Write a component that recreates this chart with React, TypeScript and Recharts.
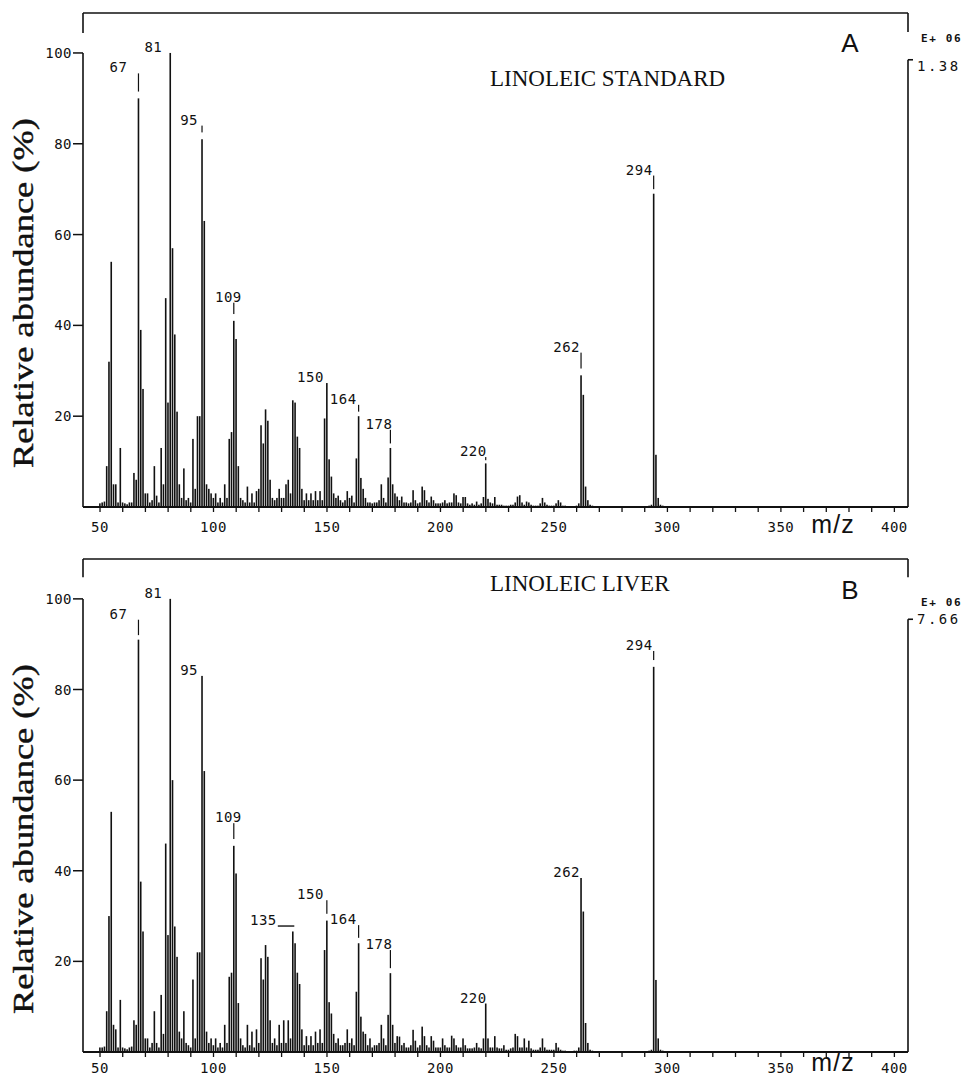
import React from 'react';
import { ComposedChart, Bar, XAxis, YAxis, ReferenceLine } from 'recharts';

// ---------- data (m/z 50 .. 300, one value per integer mass) ----------
const MZ_FIRST = 50;

const ABUND_A = [
  0.8, 1, 1.2, 9, 32, 54, 5, 5, 1, 13,
  1, 0.8, 0.6, 1, 1, 7.5, 6, 90, 39, 26,
  3, 3, 1, 1.5, 9, 2.5, 1, 13, 5, 46,
  23, 100, 57, 38, 21, 5, 2, 8.5, 1.5, 2,
  1, 15, 4, 20, 20, 81, 63, 5, 4, 3,
  2, 3, 1, 2, 1, 5, 2, 15, 16.5, 41,
  37, 9, 2, 1.5, 1, 4.5, 1, 3, 1, 3.5,
  4, 18, 14, 21.5, 19, 6, 2, 1.5, 2, 4,
  2, 2, 5, 6, 3, 23.5, 23, 15.5, 13, 4,
  1.5, 3, 1.5, 3, 1.5, 3.5, 1.5, 3.5, 1.5, 19.5,
  27.3, 10.5, 6.7, 3, 2, 2.5, 1.5, 1, 1.5, 3.5,
  2, 2.5, 1, 10.7, 20, 6.4, 4, 2, 1, 1,
  0.8, 1, 1, 1.5, 5, 2, 1, 6.5, 13, 5,
  3, 2.3, 1.5, 2.3, 1, 1, 0.8, 1, 3.7, 1.5,
  0.8, 1, 4.5, 3.7, 1.5, 1, 2.3, 1.5, 0.8, 0.8,
  0.8, 1, 1.5, 0.8, 1, 1, 3, 2.6, 1, 0.8,
  2.2, 2.2, 0.8, 0.5, 0.8, 0.5, 1.2, 0.5, 0.8, 2.2,
  9.6, 1.8, 1, 0.8, 2.2, 0.5, 0.5, 0.5, 0.3, 0.3,
  0.3, 0.5, 0.5, 1, 2.3, 2.6, 1, 0.5, 1.2, 1,
  0.5, 0.3, 0.3, 0.3, 0.8, 2, 1, 0.5, 0.3, 0.3,
  0.3, 0.8, 1.5, 1, 0.3, 0.3, 0.2, 0.2, 0.2, 0.2,
  0.3, 0.8, 29, 24.7, 4.5, 1.5, 0.5, 0.3, 0.2, 0.2,
  0.2, 0.2, 0.2, 0.2, 0.2, 0.2, 0.2, 0.2, 0.2, 0.2,
  0.2, 0.2, 0.2, 0.2, 0.2, 0.2, 0.2, 0.2, 0.2, 0.2,
  0.2, 0.2, 0.3, 0.5, 69, 11.5, 2, 0.5, 0.3, 0.2,
  0.2,
];

const ABUND_B = [
  1, 1, 1.2, 9, 30, 53, 6, 5, 1, 11.5,
  1, 0.8, 0.6, 1, 1.2, 7, 6, 91, 37.6, 26.6,
  3, 3, 1, 2, 9, 2, 1, 12.6, 4, 46,
  25.8, 100, 60, 27.7, 21, 4.5, 3, 9, 2, 1.5,
  1, 16, 3, 22, 22, 83, 62, 4.5, 2, 3,
  1.5, 3, 1, 2, 1, 6, 2, 16.6, 17.5, 45.5,
  39.4, 10.8, 3, 1.5, 1, 6, 1.5, 4.5, 1, 5,
  2, 20.7, 16, 23.6, 21, 7, 2, 3, 1.5, 6,
  2, 7, 2, 7, 3, 26.6, 24, 17.5, 15, 5,
  1.5, 3.5, 1.5, 3.5, 1.5, 4.5, 2, 5, 2, 22.5,
  29, 11, 8.5, 4, 2, 3, 1.5, 1.5, 2, 5,
  2, 3, 1.5, 13.3, 24, 7.8, 4.5, 4, 1.5, 3,
  1, 1.5, 1.5, 2, 6, 3, 1.5, 8.2, 17.4, 6,
  2, 3.5, 3.4, 1.5, 2, 1, 1, 1.5, 4.9, 2.5,
  1, 1.5, 5.6, 3.5, 1.5, 1, 3.5, 2.5, 1, 1,
  1, 3, 1.5, 1, 1, 3.6, 3, 1.5, 1, 1,
  3, 1.5, 0.8, 0.8, 0.8, 1, 2, 1, 0.8, 3,
  10.7, 3, 1, 1, 3.5, 1, 0.8, 0.8, 1.5, 0.5,
  0.5, 0.8, 1, 4, 3.5, 1, 1, 3, 1, 2.5,
  0.8, 0.5, 0.5, 0.5, 1, 3, 1, 0.5, 0.5, 0.5,
  0.5, 2, 1, 0.5, 0.3, 0.3, 0.2, 0.2, 0.2, 0.3,
  0.3, 1, 38.4, 31, 6.4, 2, 0.5, 0.3, 0.2, 0.2,
  0.2, 0.2, 0.2, 0.2, 0.2, 0.2, 0.2, 0.2, 0.2, 0.2,
  0.2, 0.2, 0.2, 0.2, 0.2, 0.2, 0.2, 0.2, 0.2, 0.2,
  0.2, 0.2, 0.3, 0.5, 85, 15.9, 3, 0.5, 0.3, 0.2,
  0.2,
];

// labelled peaks
const LABELS_A = [67, 81, 95, 109, 150, 164, 178, 220, 262, 294];
const LABELS_B = [67, 81, 95, 109, 135, 150, 164, 178, 220, 262, 294];

// leader ticks drawn above labelled peaks (low, high in % abundance)
const LEADER_MZ_A = [67, 95, 109, 164, 178, 220, 262, 294];
const LEADER_LOW_A = [91.5, 82.5, 42.5, 21, 14, 10.3, 30.5, 70];
const LEADER_HIGH_A = [95.5, 84, 45, 22.5, 17, 11, 34, 73];

const LEADER_MZ_B = [67, 109, 150, 164, 178, 294];
const LEADER_LOW_B = [92, 47, 30.5, 25.2, 18.5, 86.5];
const LEADER_HIGH_B = [95.4, 50.5, 33.5, 28, 22.5, 88.5];

// label with a horizontal leader (m/z, level in %)
const HLABEL_MZ_B = [135];
const HLABEL_LEVEL_B = [27.8];

const X_TICKS = [50, 60, 70, 80, 90, 100, 110, 120, 130, 140, 150, 160, 170, 180, 190, 200,
  210, 220, 230, 240, 250, 260, 270, 280, 290, 300, 310, 320, 330, 340, 350, 360, 370, 380, 390, 400];
const X_LABELS = [50, 100, 150, 200, 250, 300, 350, 400];
const Y_TICKS = [20, 40, 60, 80, 100];

// ---------- styles ----------
const INK = '#111';
const MONO = '"DejaVu Sans Mono", "Liberation Mono", monospace';
const SERIF = '"Liberation Serif", "DejaVu Serif", serif';
const SANS = '"Liberation Sans", Arial, sans-serif';
const X_DOMAIN: [number, number] = [42.5, 406];
const Y_TOP = 108.8;
// horizontal placement of label text end relative to the peak (px)
const LABEL_DX: Record<string, number> = {
  '67': -11, '81': -8, '95': -4, '109': 8, '150': -3, '164': -2, '178': 2, '220': 1, '262': -1, '294': -1, '135': 0,
};

type Row = { mz: number; v: number; label: string | null; leader: [number, number] | null; hline: number | null };

function buildData(abund: number[], labels: number[], lMz: number[], lLow: number[], lHigh: number[], hMz: number[], hLev: number[]): Row[] {
  return abund.map((v, i) => {
    const mz = MZ_FIRST + i;
    const li = lMz.indexOf(mz);
    const hi = hMz.indexOf(mz);
    return {
      mz,
      v,
      label: labels.indexOf(mz) >= 0 ? String(mz) : null,
      leader: li >= 0 ? [lLow[li], lHigh[li]] : null,
      hline: hi >= 0 ? hLev[hi] : null,
    };
  });
}

const DATA_A = buildData(ABUND_A, LABELS_A, LEADER_MZ_A, LEADER_LOW_A, LEADER_HIGH_A, [], []);
const DATA_B = buildData(ABUND_B, LABELS_B, LEADER_MZ_B, LEADER_LOW_B, LEADER_HIGH_B, HLABEL_MZ_B, HLABEL_LEVEL_B);

const labelTextStyle = { fontFamily: MONO, fontSize: 14, letterSpacing: 0.5, fill: INK } as const;

function PeakShape(props: any) {
  const { x, y, width, height, payload } = props;
  if (x == null || y == null || !payload) return <g />;
  const cx = x + width / 2;
  const base = y + height;
  const ppu = payload.v > 0 ? height / payload.v : 0;
  const toY = (val: number) => base - val * ppu;
  const parts: any[] = [
    <rect key="p" x={cx - 0.8} y={y} width={1.6} height={Math.max(height, 0.4)} fill={INK} />,
  ];
  let top = y;
  if (payload.leader) {
    const y1 = toY(payload.leader[1]);
    const y0 = toY(payload.leader[0]);
    parts.push(<rect key="l" x={cx - 0.6} y={y1} width={1.2} height={y0 - y1} fill={INK} />);
    top = y1;
  }
  if (payload.label) {
    if (payload.hline != null) {
      const yl = toY(payload.hline);
      parts.push(<line key="h" x1={cx - 15} x2={cx + 1.5} y1={yl} y2={yl} stroke={INK} strokeWidth={1.4} />);
      parts.push(
        <text key="t" x={cx - 16} y={yl - 1} textAnchor="end" style={labelTextStyle}>{payload.label}</text>
      );
    } else {
      const dx = LABEL_DX[payload.label] ?? -2;
      parts.push(
        <text key="t" x={cx + dx} y={top - 1} textAnchor="end" style={labelTextStyle}>{payload.label}</text>
      );
    }
  }
  return <g>{parts}</g>;
}

function makeXTick(dy: number) {
  return (props: any) => {
    const { x, y, payload } = props;
    if (X_LABELS.indexOf(payload.value) < 0) return <g />;
    return (
      <text x={x} y={y} dy={dy} textAnchor="middle" style={{ fontFamily: MONO, fontSize: 14, letterSpacing: 0.5, fill: INK }}>
        {payload.value}
      </text>
    );
  };
}

function YTick(props: any) {
  const { x, y, payload } = props;
  return (
    <text x={x} y={y} dy={5} textAnchor="end" style={{ fontFamily: MONO, fontSize: 14, letterSpacing: 0.5, fill: INK }}>
      {payload.value}
    </text>
  );
}

type PanelProps = {
  data: Row[];
  height: number;
  marginTop: number;
  xAxisHeight: number;
  tickDy: number;
  leftTopLow: number;
  rightTopLow: number;
  rightAxisTop: number;
};

function Panel({ data, height, marginTop, xAxisHeight, tickDy, leftTopLow, rightTopLow, rightAxisTop }: PanelProps) {
  const lineProps = { stroke: INK, strokeWidth: 1.6, ifOverflow: 'visible' as const };
  return (
    <ComposedChart
      width={966}
      height={height}
      data={data}
      margin={{ top: marginTop, right: 58, bottom: 0, left: 43 }}
    >
      <XAxis
        type="number"
        dataKey="mz"
        domain={X_DOMAIN}
        allowDataOverflow
        ticks={X_TICKS}
        interval={0}
        tickSize={5}
        tickMargin={0}
        height={xAxisHeight}
        axisLine={{ stroke: INK, strokeWidth: 2 }}
        tickLine={{ stroke: INK, strokeWidth: 1.3 }}
        tick={makeXTick(tickDy)}
      />
      <YAxis
        type="number"
        domain={[0, Y_TOP]}
        allowDataOverflow
        ticks={Y_TICKS}
        interval={0}
        width={40}
        tickSize={10}
        tickMargin={1}
        axisLine={false}
        tickLine={{ stroke: INK, strokeWidth: 1.5 }}
        tick={YTick}
      />
      <ReferenceLine segment={[{ x: X_DOMAIN[0], y: 0 }, { x: X_DOMAIN[0], y: 100 }]} {...lineProps} />
      <ReferenceLine segment={[{ x: X_DOMAIN[0], y: Y_TOP }, { x: X_DOMAIN[0], y: leftTopLow }]} {...lineProps} />
      <ReferenceLine segment={[{ x: X_DOMAIN[0], y: Y_TOP }, { x: X_DOMAIN[1], y: Y_TOP }]} {...lineProps} />
      <ReferenceLine segment={[{ x: X_DOMAIN[1], y: Y_TOP }, { x: X_DOMAIN[1], y: rightTopLow }]} {...lineProps} />
      <ReferenceLine segment={[{ x: X_DOMAIN[1], y: 0 }, { x: X_DOMAIN[1], y: rightAxisTop }]} {...lineProps} />
      <ReferenceLine segment={[{ x: X_DOMAIN[1], y: rightAxisTop }, { x: X_DOMAIN[1] + 2.2, y: rightAxisTop }]} {...lineProps} />
      <Bar dataKey="v" barSize={2} isAnimationActive={false} shape={PeakShape} />
    </ComposedChart>
  );
}

function Texts() {
  const yLab = { fontFamily: SERIF, fontSize: 30, fill: INK, stroke: INK, strokeWidth: 0.4 } as const;
  const title = { fontFamily: SERIF, fontSize: 23, fill: INK } as const;
  const letter = { fontFamily: SANS, fontSize: 26, fill: INK } as const;
  const exp = { fontFamily: MONO, fontSize: 11, fontWeight: 700, letterSpacing: 1.6, fill: INK } as const;
  const scale = { fontFamily: MONO, fontSize: 14, letterSpacing: 2.5, fill: INK } as const;
  const mz = { fontFamily: SANS, fontSize: 25, letterSpacing: 1, fill: INK } as const;
  return (
    <svg width={966} height={1078} style={{ position: 'absolute', left: 0, top: 0, pointerEvents: 'none' }}>
      {/* panel A */}
      <text transform="translate(33,293) rotate(-90)" textAnchor="middle" textLength={350} lengthAdjust="spacingAndGlyphs" style={yLab}>
        Relative abundance (%)
      </text>
      <text x={490} y={86} style={title}>LINOLEIC STANDARD</text>
      <text x={850} y={52} textAnchor="middle" style={letter}>A</text>
      <text x={921} y={42} style={exp}>E+ 06</text>
      <text x={917} y={71} style={scale}>1.38</text>
      <text x={833} y={533} textAnchor="middle" style={mz}>m/z</text>
      {/* panel B */}
      <text transform="translate(33,839) rotate(-90)" textAnchor="middle" textLength={350} lengthAdjust="spacingAndGlyphs" style={yLab}>
        Relative abundance (%)
      </text>
      <text x={490} y={591} style={title}>LINOLEIC LIVER</text>
      <text x={850} y={599} textAnchor="middle" style={letter}>B</text>
      <text x={921} y={606} style={exp}>E+ 06</text>
      <text x={917} y={624} style={scale}>7.66</text>
      <text x={833} y={1071} textAnchor="middle" style={mz}>m/z</text>
    </svg>
  );
}

export default function App() {
  return (
    <div style={{ position: 'absolute', left: 0, top: 0, width: 966, height: 1078, background: '#fff', overflow: 'hidden' }}>
      <div style={{ position: 'absolute', left: 0, top: 0 }}>
        <Panel data={DATA_A} height={540} marginTop={13} xAxisHeight={33} tickDy={20}
          leftTopLow={104.4} rightTopLow={104.6} rightAxisTop={98.5} />
      </div>
      <div style={{ position: 'absolute', left: 0, top: 540 }}>
        <Panel data={DATA_B} height={538} marginTop={19} xAxisHeight={26} tickDy={16}
          leftTopLow={104.8} rightTopLow={104.8} rightAxisTop={95.5} />
      </div>
      <Texts />
    </div>
  );
}
